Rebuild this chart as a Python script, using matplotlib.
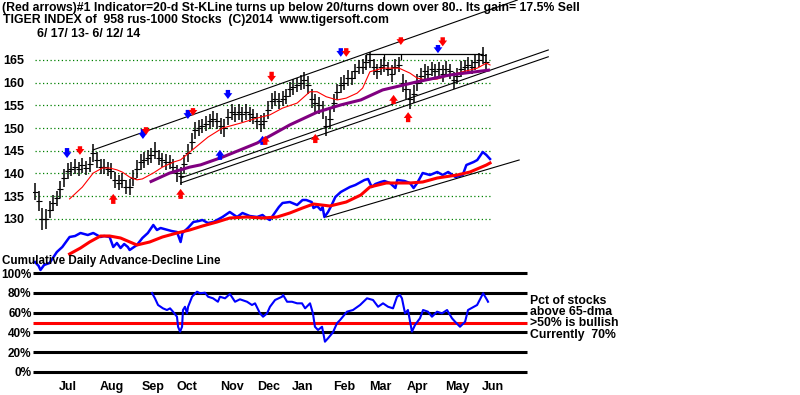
import numpy as np
import matplotlib
matplotlib.use("Agg")
import matplotlib.pyplot as plt

plt.rcParams['font.family'] = ['Liberation Sans', 'DejaVu Sans']

# ---------------- data ----------------
title1 = "(Red arrows)#1 Indicator=20-d St-KLine turns up below 20/turns down over 80.. Its gain= 17.5% Sell"
title2 = "TIGER INDEX of  958 rus-1000 Stocks  (C)2014  www.tigersoft.com"
title3 = "6/ 17/ 13- 6/ 12/ 14"

price_ticks = [130, 135, 140, 145, 150, 155, 160, 165]
month_labels = ["Jul", "Aug", "Sep", "Oct", "Nov", "Dec", "Jan", "Feb", "Mar", "Apr", "May", "Jun"]
month_days = [18, 42, 65, 83.5, 108, 128.5, 147, 170, 189.6, 210, 232, 251.6]

# price bars every two trading days (mid and half-range)
bar_mid = [136, 134, 130, 130, 132, 133.5, 134.5, 136.5, 139, 140.5,
           141, 141.5, 141, 141.8, 141.2, 142, 144.5, 143, 141.5, 141.5,
           141, 140.5, 138.5, 138, 138.5, 137, 137, 139, 141, 142.5,
           143, 143.5, 144, 145, 143.5, 143, 142.5, 142.5, 141.5, 140,
           139.5, 142, 144.5, 147, 149.5, 150, 150.5, 151, 151.5, 152,
           151.5, 150.5, 150, 152.5, 153.5, 153, 153.5, 153, 153.5, 153,
           152.5, 151.5, 151, 151.5, 154, 156, 156.5, 156, 156.5, 157,
           158.5, 159, 159.5, 160, 160.5, 159.5, 156.5, 155.5, 155, 154,
           150.5, 152, 155.5, 158, 159.5, 160, 161, 161, 162.5, 163.5,
           163.5, 164.5, 165, 163.5, 162.5, 163.5, 164, 163, 162, 163.5,
           164, 160, 158.5, 156.5, 157.5, 160, 161.5, 162.5, 162, 163,
           162.5, 163, 162, 163, 162.5, 160.5, 161.5, 163, 163.5, 164,
           163.5, 164.5, 165, 166, 164.5]
bar_half = [1.9, 2.2, 2.4, 2.2, 1.9, 1.8, 1.7, 1.9, 2.0, 1.8,
            1.6, 1.7, 1.6, 1.7, 1.6, 1.7, 1.9, 1.8, 1.6, 1.7,
            1.6, 1.7, 1.8, 1.7, 1.7, 1.6, 1.7, 1.8, 1.9, 1.8,
            1.7, 1.6, 1.7, 1.9, 1.7, 1.6, 1.7, 1.6, 1.7, 1.9,
            2.0, 2.1, 2.0, 1.9, 1.8, 1.7, 1.6, 1.7, 1.6, 1.7,
            1.8, 1.7, 1.9, 1.8, 1.7, 1.6, 1.7, 1.6, 1.7, 1.6,
            1.7, 1.8, 1.9, 1.8, 1.9, 1.7, 1.6, 1.7, 1.6, 1.7,
            1.6, 1.7, 1.6, 1.7, 1.8, 1.9, 2.0, 1.9, 1.8, 2.0,
            2.2, 2.1, 2.0, 1.8, 1.7, 1.6, 1.7, 1.6, 1.7, 1.6,
            1.7, 1.6, 1.7, 1.8, 1.7, 1.8, 1.7, 1.6, 1.8, 1.7,
            1.6, 2.0, 2.1, 2.2, 2.0, 1.9, 1.7, 1.6, 1.7, 1.6,
            1.7, 1.6, 1.8, 1.7, 1.6, 1.9, 1.8, 1.7, 1.6, 1.7,
            1.6, 1.7, 1.6, 1.8, 1.9]
bar_days = list(range(0, 250, 2))

# 20-day moving average (thin red)
ma20_days = [19, 26, 32, 37, 41, 45, 48, 52, 56, 59, 65, 70, 76, 80, 85, 95, 103, 113, 122, 129,
             136, 144, 151, 155, 160, 166, 171, 177, 180, 184, 191, 200, 206, 210, 215, 221, 228, 235, 243, 248, 250]
ma20_vals = [134.4, 137, 140.1, 141.2, 141.2, 140.8, 140.3, 139.2, 138.6, 138.8, 140.1, 141.4, 142.5, 143, 144.7,
             148, 150, 151.1, 152.2, 152.9, 154.4, 155.5, 158, 158, 156.9, 156.2, 156.6, 157.7, 158.8, 162.4,
             163.2, 163.2, 162.1, 161, 160.6, 160.8, 161.7, 162.4, 163.2, 164.3, 163.9]

# 65-day moving average (thick purple)
ma65_days = [63, 74, 85, 91, 103, 122, 140, 155, 168, 179, 191, 210, 228, 250]
ma65_vals = [138.1, 140.1, 141.4, 141.9, 143.6, 146.7, 150.7, 153.5, 155.1, 156.2, 158.4, 160.2, 161.7, 162.8]

# cumulative A/D line (own scale)
ad_days = [0, 2, 3, 5, 8, 12, 15, 19, 22, 25, 29, 32, 36, 38, 41, 43, 45, 47, 49, 51,
           52, 56, 59, 62, 65, 67, 69, 73, 75, 78, 80, 81, 84, 87, 90, 92, 95, 98, 101, 103,
           107, 111, 114, 118, 122, 125, 127, 129, 134, 136, 140, 144, 147, 149, 152, 153, 155, 157, 158, 159,
           161, 163, 165, 168, 170, 173, 176, 179, 181, 183, 185, 187, 190, 192, 195, 198, 199, 203, 206, 208,
           210, 213, 217, 221, 224, 227, 231, 235, 237, 241, 243, 246, 248, 250]
ad_vals = [10, 6, 2, 7, 9, 20, 25, 35, 36, 39, 37, 39, 35, 36, 35, 25, 29, 24, 28, 25,
           22, 27, 34, 39, 47, 42, 44, 42, 41, 40, 30, 39, 44, 50, 51, 52, 49, 50, 53, 55,
           60, 55, 59, 56, 55, 57, 54, 52, 65, 69, 70, 67, 72, 72, 70, 64, 66, 62, 65, 55,
           60, 67, 75, 80, 82, 85, 87, 90, 92, 93, 85, 88, 90, 91, 89, 84, 92, 91, 89, 84,
           89, 99, 97, 100, 97, 100, 95, 97, 107, 110, 112, 120, 117, 113]
ad_ma_days = [19, 25, 30, 36, 41, 47, 56, 63, 70, 78, 85, 92, 100, 107, 116, 125, 133, 140, 147, 153,
              162, 171, 179, 184, 193, 206, 213, 221, 232, 239, 248, 250]
ad_ma_vals = [18, 24, 30, 36, 36, 34, 27, 30, 35, 39, 42, 46, 50, 54, 55, 54, 55, 59, 64, 68,
              66, 70, 77, 85, 89, 89, 90, 94, 97, 100, 107, 109]

# percent of stocks above 65-dma
pct_days = [64.3, 65.9, 67.6, 70.3, 72.5, 74.2, 75.8, 78.0, 78.6, 79.7, 80.8, 81.3, 82.4, 83.5, 84.1,
            86.3, 89.0, 90.7, 93.4, 95.1, 97.8, 100.5, 101.6, 104.4, 107.1, 109.9, 112.6, 116.5, 119.2, 120.9,
            123.6, 125.3, 127.5, 129.1, 131.9, 135.7, 136.3, 138.5, 141.2, 144.0, 146.7, 148.4, 151.1, 152.7,
            153.8, 155.5, 157.7, 159.3, 161.0, 163.7, 165.9, 167.6, 171.4, 174.7, 178.6, 182.4, 185.7, 188.5,
            191.2, 194.0, 196.7, 198.9, 200.5, 201.6, 203.3, 204.9, 207.1, 208.8, 211.5, 213.2, 215.9, 218.1,
            220.9, 223.6, 226.4, 229.1, 230.8, 233.5, 236.3, 237.9, 242.9, 246.2, 248.4, 248.9]
pct_vals = [80, 74.6, 67.8, 64.4, 62.7, 64.4, 61, 55.9, 45.7, 40.7, 45.7, 62.7, 66, 59.3, 66,
            76.2, 81.3, 79.7, 80.3, 76.2, 74.6, 71.1, 76.2, 74.6, 79, 71.1, 73.6, 71.1, 67.8, 69.5,
            59.3, 55.9, 59.3, 66, 72.9, 76.2, 78, 71.1, 71.1, 69.5, 69.5, 64.4, 69.5, 59.3,
            45.7, 42.4, 45.7, 30.5, 34, 40, 49.2, 52.5, 61, 62.7, 67.8, 74.6, 72.9, 66,
            69.5, 66, 64.4, 76.2, 78, 74.6, 59.3, 62.7, 40.7, 47.5, 54.3, 62.7, 61, 55.9,
            61, 59.3, 62.7, 54.3, 50.8, 45.7, 50.8, 62.7, 67.8, 79.7, 72.9, 71.1]
pct_ticks = [0, 20, 40, 60, 80, 100]
pct_labels = ["0%", "20%", "40%", "60%", "80%", "100%"]
side_text = ["Pct of stocks", "above 65-dma", ">50% is bullish", "Currently  70%"]

# trend lines (day, price) pairs
upper_line = [(32, 145.2), (265, 178.2)]
channel_a = [(80, 139.0), (282, 167.2)]
channel_b = [(80, 137.9), (282, 165.7)]
resist_days = [182, 246]
resist_level = 166.4
resist_ticks = [182, 192, 201]
ad_trend = [(160, 55), (266, 112)]

# arrows: (day, tail price, head price, color)
arrows = [(17.6, 145.6, 143.4, 'blue'), (24.7, 146.0, 144.1, 'red'),
          (59.3, 149.8, 147.6, 'blue'), (61.0, 150.2, 148.5, 'red'),
          (84.0, 154.0, 152.0, 'blue'), (86.8, 154.4, 152.7, 'red'),
          (106.0, 158.4, 156.4, 'blue'), (130.0, 162.4, 160.2, 'red'),
          (168.0, 167.6, 165.7, 'blue'), (171.0, 167.6, 165.7, 'red'),
          (201.0, 170.0, 168.3, 'red'), (221.4, 168.3, 166.5, 'blue'), (224.0, 170.0, 168.0, 'red'),
          (43.0, 133.3, 135.5, 'red'), (80.0, 134.4, 136.6, 'red'),
          (101.6, 143.0, 145.2, 'blue'), (125.0, 146.3, 148.3, 'blue'), (126.5, 146.3, 148.3, 'red'),
          (154.0, 146.7, 148.7, 'red'), (197.0, 155.3, 157.3, 'red'), (205.0, 151.3, 153.5, 'red')]

# ---------------- figure ----------------
W, H = 800, 395
fig = plt.figure(figsize=(8, 3.95), dpi=100)
fig.patch.set_facecolor('white')

def fy(y):
    return 1 - y / H

XL = (-1.1, 420.3)
FS = 8.8

ax = fig.add_axes([33 / W, fy(272), 1 - 33 / W, 242 / H])
ax.set_xlim(*XL)
ax.set_ylim(118.3, 171.6)
ax.patch.set_alpha(0)
for s in ax.spines.values():
    s.set_visible(False)
ax.set_xticks([])
ax.set_yticks(price_ticks)
ax.set_yticklabels([str(t) for t in price_ticks], fontsize=9, fontweight='bold')
ax.tick_params(axis='y', length=0, pad=6)

ax.hlines(price_ticks, 0, 250, colors='#008000', linestyles=(0, (1, 2)), lw=0.9)

lows = [m - h for m, h in zip(bar_mid, bar_half)]
highs = [m + h for m, h in zip(bar_mid, bar_half)]
ax.vlines(bar_days, lows, highs, colors='black', lw=1.1, zorder=3)
ax.plot(bar_days, bar_mid, ls='none', marker=1, ms=2, mew=0.8, color='black', zorder=3)
ax.plot(bar_days, bar_mid, ls='none', marker=0, ms=2, mew=0.8, color='black', zorder=3)

ax.plot(ma20_days, ma20_vals, color='red', lw=0.8, zorder=4)
ax.plot(ma65_days, ma65_vals, color='#800080', lw=2.2, zorder=4, solid_capstyle='butt')

for ln in (upper_line, channel_a, channel_b):
    ax.plot([ln[0][0], ln[1][0]], [ln[0][1], ln[1][1]], color='black', lw=0.8, zorder=2, clip_on=False)
ax.hlines(resist_level, resist_days[0], resist_days[1], colors='black', lw=0.9)
ax.vlines(resist_ticks, 165.0, resist_level, colors='black', lw=0.9)

for d, t, h, c in arrows:
    ax.annotate('', xy=(d, h), xytext=(d, t),
                arrowprops=dict(arrowstyle='simple,head_width=0.9,head_length=0.6,tail_width=0.45',
                                color=c, lw=0, shrinkA=0, shrinkB=0, mutation_scale=7), zorder=5)

ax_ad = ax.twinx()
ax_ad.set_ylim(0, 242)
ax_ad.set_xlim(*XL)
ax_ad.axis('off')
ax_ad.plot(ad_days, ad_vals, color='#0000ff', lw=1.8)
ax_ad.plot(ad_ma_days, ad_ma_vals, color='#ff0000', lw=2.2)
ax_ad.plot([ad_trend[0][0], ad_trend[1][0]], [ad_trend[0][1], ad_trend[1][1]], color='black', lw=0.8)

# lower panel
bx = fig.add_axes([33 / W, fy(380), 1 - 33 / W, 118 / H])
bx.set_xlim(*XL)
bx.set_ylim(-8.43, 111.5)
bx.patch.set_alpha(0)
for s in bx.spines.values():
    s.set_visible(False)
bx.hlines(pct_ticks, -1.1, 270.3, colors='black', lw=2.2)
bx.hlines(50, -1.1, 270.3, colors='red', lw=2.2)
bx.plot(pct_days, pct_vals, color='#0000ff', lw=1.5)
bx.set_yticks(pct_ticks)
bx.set_yticklabels(pct_labels, fontsize=8.5, fontweight='bold')
bx.tick_params(axis='y', length=0, pad=1)
bx.set_xticks(month_days)
bx.set_xticklabels(month_labels, fontsize=9, fontweight='bold')
bx.tick_params(axis='x', length=0, pad=1)

# texts
fig.text(2 / W, fy(8), title1, fontsize=FS, fontweight='bold', va='center', ha='left')
fig.text(3 / W, fy(20), title2, fontsize=FS, fontweight='bold', va='center', ha='left')
fig.text(37 / W, fy(34), title3, fontsize=FS, fontweight='bold', va='center', ha='left')
fig.text(2 / W, fy(261), "Cumulative Daily Advance-Decline Line", fontsize=8.4, fontweight='bold',
         va='center', ha='left')
for yy, s in zip([301, 312, 323, 335], side_text):
    fig.text(530 / W, fy(yy), s, fontsize=8.8, fontweight='bold', va='center', ha='left')

fig.savefig("out.png", dpi=100, facecolor='white')
